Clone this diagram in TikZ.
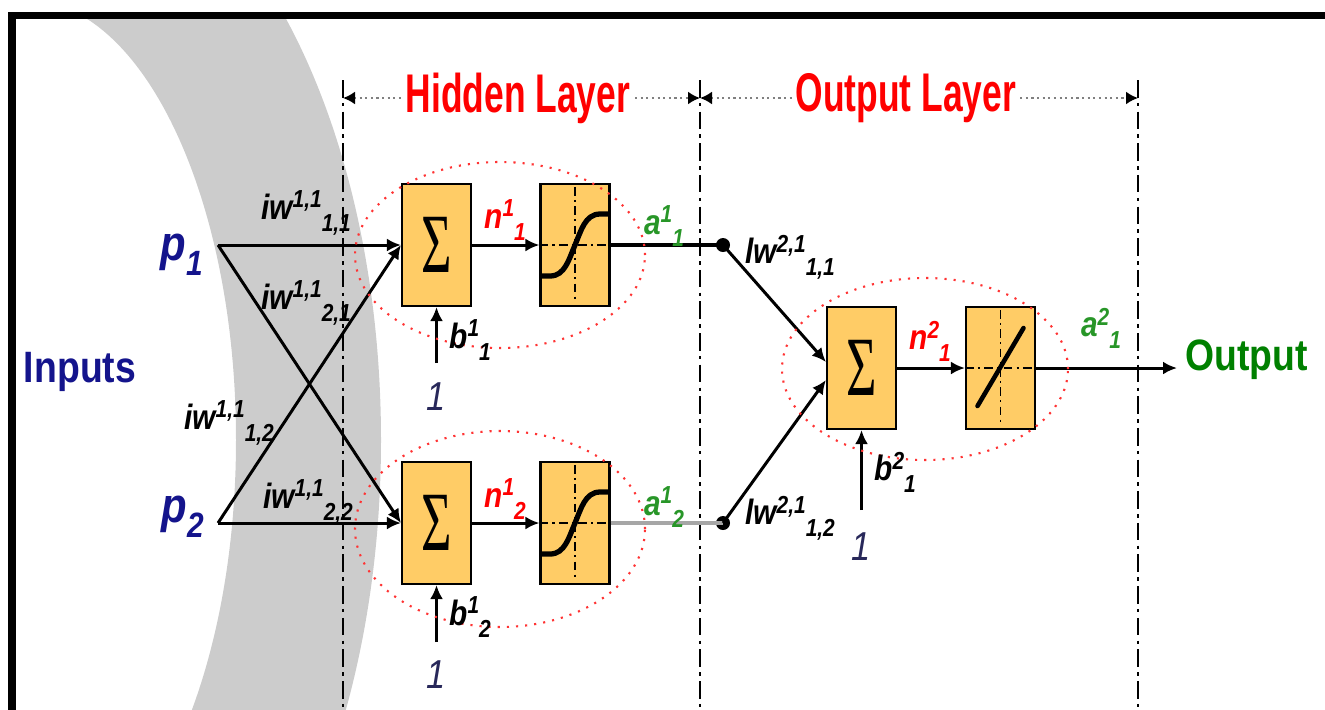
\documentclass[tikz,border=0pt]{standalone}
\usepackage{fontspec}
\setmainfont{Liberation Sans}[FakeStretch=0.85]
\newfontfamily\titlefont{Liberation Sans}[FakeStretch=0.65]
\newfontfamily\sigmafont{Liberation Serif}[FakeStretch=0.62]
\usepackage{tikz}
\usetikzlibrary{positioning,arrows.meta,calc}

\definecolor{boxfill}{RGB}{255,204,102}
\definecolor{inblue}{RGB}{20,20,140}
\definecolor{agreen}{RGB}{40,150,40}
\definecolor{outgreen}{RGB}{0,128,0}
\definecolor{onecol}{RGB}{40,40,90}

% weight label with super- and subscript set one after the other
\newcommand{\ws}[3]{#1\raisebox{0.32em}{\fontsize{7}{7}\selectfont #2}\raisebox{-0.34em}{\fontsize{7}{7}\selectfont #3}}

\begin{document}
\begin{tikzpicture}[
    box/.style={draw, line width=0.6pt, fill=boxfill, minimum width=0.69cm,
                minimum height=1.22cm, inner sep=0},
    sumbox/.style={box, font=\sigmafont\fontsize{24}{24}\selectfont},
    arr/.style={-{Latex[length=0.14cm,width=0.13cm]}, line width=0.85pt},
    axis/.style={line width=0.45pt, dash pattern=on 2.5pt off 1.2pt on 0.6pt off 1.2pt},
    curve/.style={line width=1.5pt, line cap=round},
    lab/.style={font=\fontsize{10}{10}\selectfont\bfseries\itshape, inner sep=0},
    one/.style={font=\fontsize{11.5}{11.5}\selectfont\itshape, text=onecol, inner sep=0},
    pin/.style={font=\fontsize{14}{14}\selectfont\bfseries\itshape, text=inblue, inner sep=0},
    title/.style={font=\titlefont\fontsize{15.5}{15.5}\selectfont\bfseries, text=red,
                  fill=white, inner sep=1pt},
    group/.style={draw=red!80, dotted, line width=0.6pt},
    vline/.style={line width=0.6pt, dash pattern=on 5pt off 1.5pt on 1pt off 1.5pt},
    dimline/.style={{Latex[length=0.12cm,width=0.13cm,color=black]}-{Latex[length=0.12cm,width=0.13cm,color=black]},
                    densely dotted, gray, line width=0.6pt},
    dotnode/.style={circle, fill=black, inner sep=0, minimum size=0.14cm},
  ]
  \useasboundingbox (0,0) rectangle (13.25,-7.09);

  % grey band behind the inputs
  \begin{scope}
    \clip (0.12,-0.155) rectangle (13.25,-7.09);
    \fill[black!20, even odd rule] (0.51,-4.40) ellipse [x radius=3.30, y radius=6.00]
                                   (0.26,-4.40) ellipse [x radius=2.10, y radius=4.40];
  \end{scope}

  % frame
  \draw[line width=0.075cm] (0.12,-7.4) |- (13.6,-0.155);

  % layer borders
  \coordinate (h0) at (3.43,-0.80);
  \coordinate (h1) at (7.00,-0.80);
  \coordinate (h2) at (11.38,-0.80);
  \draw[vline] (h0) -- ++(0,-6.5);
  \draw[vline] (h1) -- ++(0,-6.5);
  \draw[vline] (h2) -- ++(0,-6.5);
  \coordinate (d0) at (3.43,-0.98);
  \coordinate (d1) at (7.00,-0.98);
  \coordinate (d2) at (11.38,-0.98);
  \draw[dimline] (d0) -- (d1) node[title, pos=0.49] (hid) {Hidden Layer};
  \draw[dimline] (d1) -- (d2) node[title, pos=0.47] (outl) {Output Layer};

  % neurons
  \node[sumbox] (sum1) at (4.365,-2.45) {Σ};
  \node[box]    (sig1) at (5.75,-2.45)  {};
  \node[sumbox] (sum2) at (4.365,-5.23) {Σ};
  \node[box]    (sig2) at (5.75,-5.23)  {};
  \node[sumbox] (sum3) at (8.615,-3.68) {Σ};
  \node[box]    (lin)  at (10.005,-3.68) {};

  % transfer functions
  \draw[axis] (sig1.west) -- (sig1.east);
  \draw[axis] ([yshift=-0.04cm]sig1.north) -- ([yshift=0.06cm]sig1.south);
  \draw[curve] ($(sig1.center)+(-0.33,-0.31)$) -- ++(0.08,0)
    .. controls +(0.15,0) and +(-0.06,-0.14) .. (sig1.center)
    .. controls +(0.06,0.14) and +(-0.15,0) .. ($(sig1.center)+(0.25,0.31)$) -- ++(0.08,0);
  \draw[axis] (sig2.west) -- (sig2.east);
  \draw[axis] ([yshift=-0.04cm]sig2.north) -- ([yshift=0.06cm]sig2.south);
  \draw[curve] ($(sig2.center)+(-0.33,-0.31)$) -- ++(0.08,0)
    .. controls +(0.15,0) and +(-0.06,-0.14) .. (sig2.center)
    .. controls +(0.06,0.14) and +(-0.15,0) .. ($(sig2.center)+(0.25,0.31)$) -- ++(0.08,0);
  \draw[axis] (lin.west) -- (lin.east);
  \draw[axis] ([yshift=-0.04cm]lin.north) -- ([yshift=0.06cm]lin.south);
  \draw[curve, line width=1.3pt] ($(lin.center)+(-0.23,-0.38)$) -- ($(lin.center)+(0.23,0.40)$);

  % inputs
  \coordinate (in1) at (2.18,-2.45);
  \coordinate (in2) at (2.18,-5.23);
  \node[pin] (p1) at (1.82,-2.55) {p\raisebox{-0.3em}{\fontsize{10}{10}\selectfont 1}};
  \node[pin] (p2) at (1.83,-5.17) {p\raisebox{-0.3em}{\fontsize{10}{10}\selectfont 2}};
  \node[font=\fontsize{12.5}{12.5}\selectfont\bfseries, text=inblue] (inputs) at (0.80,-3.72) {Inputs};

  \draw[arr] (in1) -- (sum1.west);
  \draw[arr] (in1) -- (sum2.west);
  \draw[arr] (in2) -- (sum1.west);
  \draw[arr] (in2) -- (sum2.west);
  \draw[arr] (sum1) -- (sig1);
  \draw[arr] (sum2) -- (sig2);

  % hidden outputs
  \node[dotnode] (dot1) at (7.23,-2.45) {};
  \node[dotnode] (dot2) at (7.23,-5.23) {};
  \draw[line width=1.3pt] (sig1.east) -- (dot1.center);
  \draw[line width=1.1pt, black!35] (sig2.east) -- (dot2.center);
  \draw[arr] (dot1.center) -- ([yshift=0.06cm]sum3.west);
  \draw[arr] (dot2.center) -- ([yshift=-0.12cm]sum3.west);
  \draw[arr] (sum3) -- (lin);
  \coordinate (outend) at (11.77,-3.68);
  \draw[arr] (lin.east) -- (outend);
  \node[font=\fontsize{12.5}{12.5}\selectfont\bfseries, text=outgreen] (output) at (12.465,-3.60) {Output};

  % biases
  \coordinate (bias1) at (4.365,-3.63);
  \coordinate (bias2) at (4.365,-6.42);
  \coordinate (bias3) at (8.615,-5.10);
  \draw[arr] (bias1) -- (sum1.south);
  \draw[arr] (bias2) -- (sum2.south);
  \draw[arr] (bias3) -- (sum3.south);
  \node[one] (one1) at (4.36,-3.97) {1};
  \node[one] (one2) at (4.36,-6.75) {1};
  \node[one] (one3) at (8.61,-5.47) {1};

  % neuron groups
  \draw[group] (5.00,-2.55) ellipse [x radius=1.45, y radius=0.93];
  \draw[group] (5.00,-5.29) ellipse [x radius=1.45, y radius=0.98];
  \draw[group] (9.25,-3.69) ellipse [x radius=1.43, y radius=0.91];

  % weights and signals
  \node[lab] (w11) at (3.06,-2.13) {\ws{iw}{1,1}{1,1}};
  \node[lab] (w21) at (3.06,-3.03) {\ws{iw}{1,1}{2,1}};
  \node[lab] (w12) at (2.29,-4.23) {\ws{iw}{1,1}{1,2}};
  \node[lab] (w22) at (3.08,-5.02) {\ws{iw}{1,1}{2,2}};
  \node[lab, text=red] (n11) at (5.05,-2.20) {\ws{n}{1}{1}};
  \node[lab, text=agreen] (a11) at (6.64,-2.26) {\ws{a}{1}{1}};
  \node[lab, text=red] (n12) at (5.05,-4.99) {\ws{n}{1}{2}};
  \node[lab, text=agreen] (a12) at (6.64,-5.07) {\ws{a}{1}{2}};
  \node[lab] (b11) at (4.70,-3.40) {\ws{b}{1}{1}};
  \node[lab] (b12) at (4.70,-6.17) {\ws{b}{1}{2}};
  \node[lab] (lw11) at (7.90,-2.57) {\ws{lw}{2,1}{1,1}};
  \node[lab] (lw12) at (7.90,-5.18) {\ws{lw}{2,1}{1,2}};
  \node[lab, text=red] (n21) at (9.30,-3.41) {\ws{n}{2}{1}};
  \node[lab, text=agreen] (a21) at (11.01,-3.28) {\ws{a}{2}{1}};
  \node[lab] (b21) at (8.95,-4.72) {\ws{b}{2}{1}};
\end{tikzpicture}
\end{document}
